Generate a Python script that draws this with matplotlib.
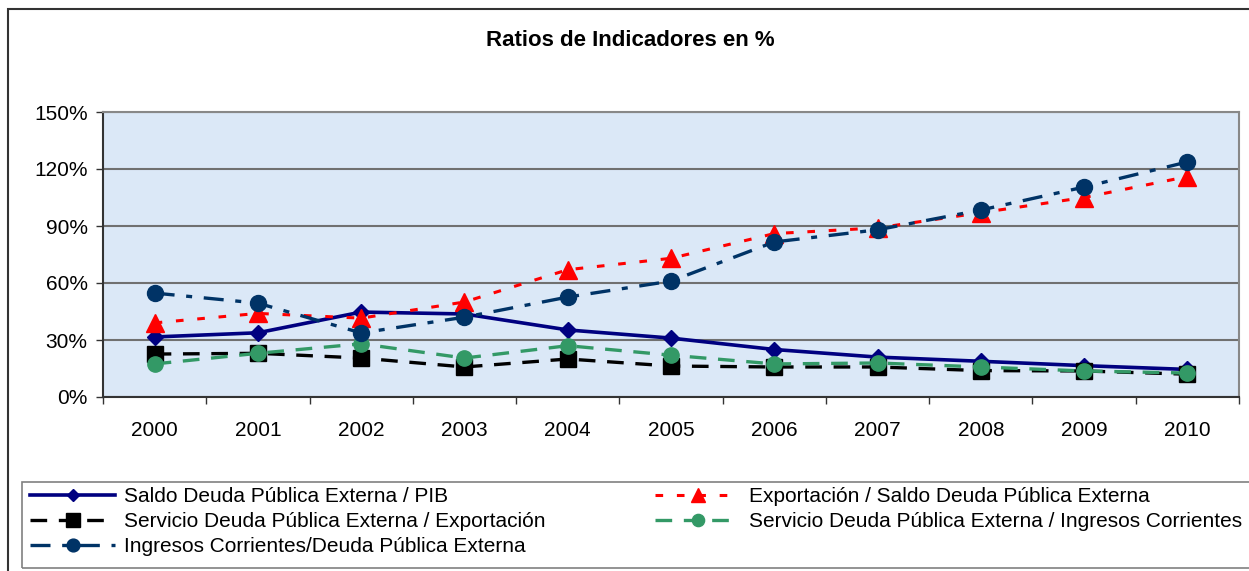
import matplotlib
matplotlib.use("Agg")
import matplotlib.pyplot as plt
from matplotlib.patches import Rectangle

plt.rcParams['font.family'] = ['Liberation Sans', 'DejaVu Sans']

years = ['2000', '2001', '2002', '2003', '2004', '2005', '2006', '2007', '2008', '2009', '2010']
saldo_pib = [31.6, 33.8, 44.7, 43.7, 35.3, 31.0, 25.0, 21.0, 18.8, 16.5, 14.5]
export_saldo = [39.0, 44.0, 41.5, 50.0, 67.0, 73.0, 86.0, 89.0, 97.0, 105.0, 116.0]
serv_export = [22.6, 23.0, 20.5, 15.8, 20.0, 16.3, 15.8, 15.8, 13.9, 13.7, 12.0]
serv_ingresos = [17.4, 23.0, 28.0, 20.5, 27.0, 22.0, 17.4, 17.9, 15.8, 13.7, 12.6]
ingresos_deuda = [54.7, 49.4, 33.7, 42.0, 52.6, 61.0, 81.6, 88.0, 98.4, 110.5, 123.7]

W, H = 1249, 571
fig = plt.figure(figsize=(W / 100, H / 100), dpi=100)

# outer chart border and legend box (pixel positions converted to figure fractions)
fig.patches.append(Rectangle((8 / W, -0.05), 1.1, (H - 9) / H + 0.05, transform=fig.transFigure,
                             fill=False, edgecolor='#333333', lw=1.5))
fig.patches.append(Rectangle((22 / W, (H - 568) / H), 1.1, (568 - 482) / H, transform=fig.transFigure,
                             fill=False, edgecolor='#808080', lw=1.2))

ax = fig.add_axes([103 / W, (H - 397) / H, (1239 - 103) / W, (397 - 112) / H])
ax.set_facecolor('#dbe8f7')

x = range(len(years))
l1, = ax.plot(x, saldo_pib, color='#000080', lw=2.6, marker='D', ms=8,
              label='Saldo Deuda Pública Externa / PIB', zorder=3)
l2, = ax.plot(x, export_saldo, color='#ff0000', lw=2.2, ls=(0, (2.5, 4.5)), marker='^', ms=13,
              label='Exportación / Saldo Deuda Pública Externa', zorder=3)
l3, = ax.plot(x, serv_export, color='#000000', lw=2.4, ls=(0, (5, 3.5)), marker='s', ms=12,
              label='Servicio Deuda Pública Externa / Exportación', zorder=3)
l4, = ax.plot(x, serv_ingresos, color='#339966', lw=2.4, ls=(0, (5, 3.5)), marker='o', ms=11,
              label='Servicio Deuda Pública Externa / Ingresos Corrientes', zorder=3)
l5, = ax.plot(x, ingresos_deuda, color='#003366', lw=2.4, ls=(0, (6, 3.5, 1.8, 3.5)), marker='o', ms=11.5,
              label='Ingresos Corrientes/Deuda Pública Externa', zorder=3)

ax.set_xlim(-0.5, len(years) - 0.5)
ax.set_ylim(0, 150)
ax.set_yticks([0, 30, 60, 90, 120, 150])
ax.set_yticklabels(['0%', '30%', '60%', '90%', '120%', '150%'])
ax.set_xticks([i - 0.5 for i in range(len(years) + 1)])
ax.set_xticklabels([])
ax.set_xticks(list(x), minor=True)
ax.set_xticklabels(years, minor=True)
ax.tick_params(axis='x', which='major', length=5, width=1, color='#333333', direction='out')
ax.tick_params(axis='x', which='minor', length=0, pad=17, labelsize=15)
ax.tick_params(axis='y', length=5, width=1, color='#333333', direction='out', pad=6, labelsize=15)

ax.yaxis.grid(True, color='#707070', lw=1.5)
ax.set_axisbelow(True)
for s in ['left', 'bottom']:
    ax.spines[s].set_color('#333333')
    ax.spines[s].set_linewidth(1.5)
for s in ['top', 'right']:
    ax.spines[s].set_color('#888888')
    ax.spines[s].set_linewidth(1.5)

fig.text(630 / W, (H - 40) / H, 'Ratios de Indicadores en %', ha='center', va='center',
         fontsize=16, fontweight='bold')

leg_kw = dict(frameon=False, fontsize=15, handlelength=4.1, handletextpad=0.4, markerscale=0.8,
              labelspacing=0.3, borderpad=0, borderaxespad=0, loc='upper left')
fig.legend(handles=[l1, l3, l5], bbox_to_anchor=(30 / W, (H - 487) / H), **leg_kw)
fig.legend(handles=[l2, l4], bbox_to_anchor=(655 / W, (H - 487) / H), **leg_kw)

fig.savefig('out.png', dpi=100)
